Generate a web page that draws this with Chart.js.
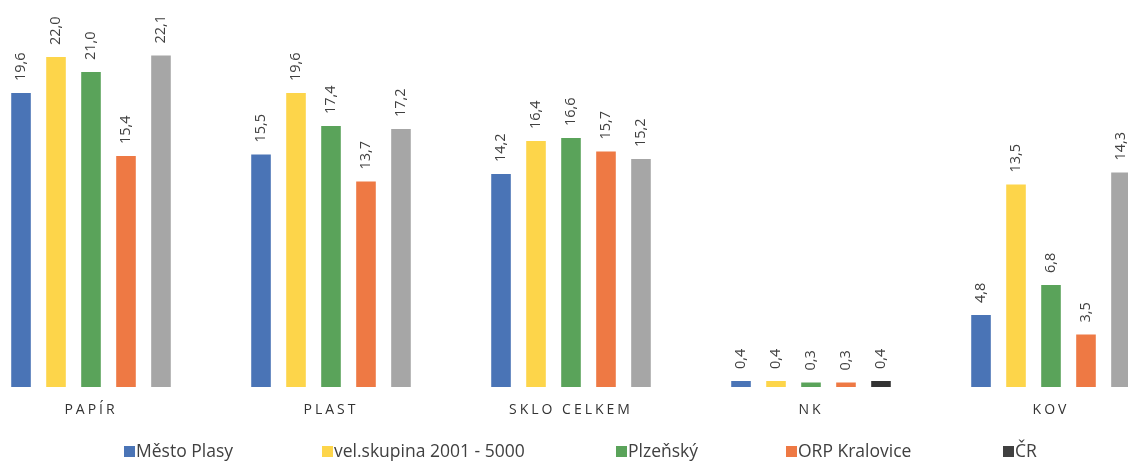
<!DOCTYPE html>
<html>
<head>
<meta charset="utf-8">
<script src="https://cdn.jsdelivr.net/npm/chart.js@4.4.1/dist/chart.umd.min.js"></script>
<style>
  html, body { margin: 0; padding: 0; background: #ffffff; overflow: hidden; }
  #wrap { position: relative; width: 1128px; height: 461px; overflow: hidden; background: #fff; }
  #c { position: absolute; left: -29px; top: 0; }
  .lg { position: absolute; top: 442px; height: 16px; line-height: 16px; font-family: "Open Sans", sans-serif; font-size: 17.5px; color: #404040; white-space: nowrap; }
  .sq { position: absolute; top: 446px; width: 11px; height: 11px; }
</style>
</head>
<body>
<div id="wrap">
  <canvas id="c" width="1200" height="461"></canvas>
  <div id="legend"></div>
</div>
<script>
// ---- data ----
const categories = ["PAPÍR", "PLAST", "SKLO CELKEM", "NK", "KOV"];
const seriesNames = ["Město Plasy", "vel.skupina 2001 - 5000", "Plzeňský", "ORP Kralovice", "ČR"];
const mestoPlasy = [19.6, 15.5, 14.2, 0.4, 4.8];
const velSkupina = [22.0, 19.6, 16.4, 0.4, 13.5];
const plzensky = [21.0, 17.4, 16.6, 0.3, 6.8];
const orpKralovice = [15.4, 13.7, 15.7, 0.3, 3.5];
const cr = [22.1, 17.2, 15.2, 0.4, 14.3];

const colBlue = "#4a74b6";
const colYellow = "#fdd54a";
const colGreen = "#5aa35a";
const colOrange = "#ee7944";
const colGray = "#a6a6a6";
const colDark = "#333333";
const crColors = [colGray, colGray, colGray, colDark, colGray];

const legendSquares = [colBlue, colYellow, colGreen, colOrange, "#404040"];
const legendSquareX = [124, 322, 616, 786, 1003];

// ---- legend (HTML) ----
const lg = document.getElementById('legend');
seriesNames.forEach((n, i) => {
  const s = document.createElement('div');
  s.className = 'sq';
  s.style.left = legendSquareX[i] + 'px';
  s.style.background = legendSquares[i];
  lg.appendChild(s);
  const t = document.createElement('div');
  t.className = 'lg';
  t.style.left = (legendSquareX[i] + 12) + 'px';
  t.textContent = n;
  lg.appendChild(t);
});

const fmt = v => v.toFixed(1).replace('.', ',');

const letterSpacingPlugin = {
  id: 'ls',
  beforeDraw(chart) { chart.ctx.letterSpacing = '3px'; },
  beforeDatasetsDraw(chart) { chart.ctx.letterSpacing = '0px'; }
};

const valueLabels = {
  id: 'vl',
  afterDatasetsDraw(chart) {
    const ctx = chart.ctx;
    ctx.save();
    ctx.letterSpacing = '0px';
    ctx.font = '14.5px "Open Sans", sans-serif';
    ctx.fillStyle = '#404040';
    ctx.textAlign = 'left';
    ctx.textBaseline = 'middle';
    chart.data.datasets.forEach((ds, di) => {
      const meta = chart.getDatasetMeta(di);
      meta.data.forEach((bar, i) => {
        ctx.save();
        ctx.translate(bar.x, bar.y - 12);
        ctx.rotate(-Math.PI / 2);
        ctx.fillText(fmt(ds.data[i]), 0, 0);
        ctx.restore();
      });
    });
    ctx.restore();
  }
};

new Chart(document.getElementById('c'), {
  type: 'bar',
  data: {
    labels: categories,
    datasets: [
      { label: seriesNames[0], data: mestoPlasy, backgroundColor: colBlue },
      { label: seriesNames[1], data: velSkupina, backgroundColor: colYellow },
      { label: seriesNames[2], data: plzensky, backgroundColor: colGreen },
      { label: seriesNames[3], data: orpKralovice, backgroundColor: colOrange },
      { label: seriesNames[4], data: cr, backgroundColor: crColors }
    ]
  },
  options: {
    responsive: false,
    animation: false,
    devicePixelRatio: 1,
    layout: { padding: 0 },
    datasets: { bar: { categoryPercentage: 0.729, barPercentage: 0.56 } },
    plugins: { legend: { display: false }, tooltip: { enabled: false } },
    scales: {
      x: {
        grid: { display: false, drawTicks: false },
        border: { display: false },
        ticks: { color: '#333333', font: { family: '"Open Sans", sans-serif', size: 14 }, padding: 15, maxRotation: 0, autoSkip: false },
        afterFit(s) { s.height = 74; }
      },
      y: { display: false, min: 0, max: 25.8 }
    }
  },
  plugins: [letterSpacingPlugin, valueLabels]
});
</script>
</body>
</html>
